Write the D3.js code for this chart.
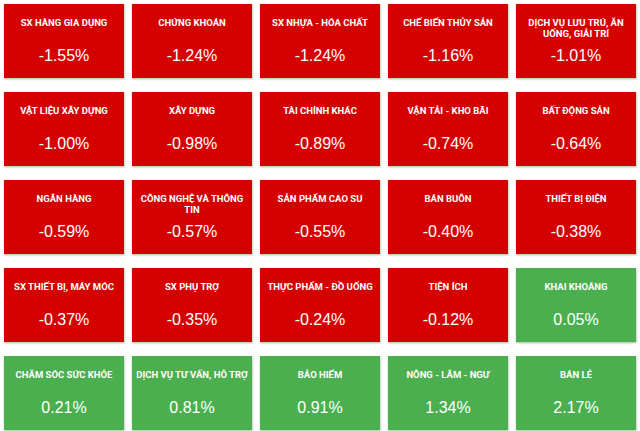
<!DOCTYPE html>
<html>
<head>
<meta charset="utf-8">
<script src="https://cdn.jsdelivr.net/npm/d3@7"></script>
<style>
  html, body { margin: 0; padding: 0; background: #ffffff; }
  svg { display: block; }
</style>
</head>
<body>
<svg id="chart" width="640" height="431"></svg>
<script>
const categories = [
  "SX HÀNG GIA DỤNG", "CHỨNG KHOÁN", "SX NHỰA - HÓA CHẤT", "CHẾ BIẾN THỦY SẢN", "DỊCH VỤ LƯU TRÚ, ĂN UỐNG, GIẢI TRÍ",
  "VẬT LIỆU XÂY DỰNG", "XÂY DỰNG", "TÀI CHÍNH KHÁC", "VẬN TẢI - KHO BÃI", "BẤT ĐỘNG SẢN",
  "NGÂN HÀNG", "CÔNG NGHỆ VÀ THÔNG TIN", "SẢN PHẨM CAO SU", "BÁN BUÔN", "THIẾT BỊ ĐIỆN",
  "SX THIẾT BỊ, MÁY MÓC", "SX PHỤ TRỢ", "THỰC PHẨM - ĐỒ UỐNG", "TIỆN ÍCH", "KHAI KHOÁNG",
  "CHĂM SÓC SỨC KHỎE", "DỊCH VỤ TƯ VẤN, HỖ TRỢ", "BẢO HIỂM", "NÔNG - LÂM - NGƯ", "BÁN LẺ"
];
const values = [
  -1.55, -1.24, -1.24, -1.16, -1.01,
  -1.00, -0.98, -0.89, -0.74, -0.64,
  -0.59, -0.57, -0.55, -0.40, -0.38,
  -0.37, -0.35, -0.24, -0.12, 0.05,
  0.21, 0.81, 0.91, 1.34, 2.17
];
const nCols = 5;

const data = categories.map((c, i) => ({ name: c, value: values[i], col: i % nCols, row: Math.floor(i / nCols) }));
const nRows = Math.ceil(data.length / nCols);

const svg = d3.select("#chart");
const x = d3.scaleBand().domain(d3.range(nCols)).range([4, 636]).paddingInner(8 / 128).paddingOuter(0);
const y = d3.scaleBand().domain(d3.range(nRows)).range([4, 430]).paddingInner(14 / 88).paddingOuter(0);
const color = d3.scaleThreshold().domain([0]).range(["#d50000", "#4caf50"]);
const fmt = d3.formatLocale({ decimal: ".", thousands: ",", grouping: [3], currency: ["", ""], minus: "-" }).format(".2f");

const defs = svg.append("defs");
const f = defs.append("filter").attr("id", "shadow").attr("x", "-10%").attr("y", "-10%").attr("width", "120%").attr("height", "130%");
f.append("feDropShadow").attr("dx", 0.5).attr("dy", 1).attr("stdDeviation", 1).attr("flood-color", "#000").attr("flood-opacity", 0.3);

const cells = svg.selectAll("g.cell").data(data).join("g")
  .attr("class", "cell")
  .attr("transform", d => `translate(${x(d.col)},${y(d.row)})`);

cells.append("rect")
  .attr("width", x.bandwidth())
  .attr("height", y.bandwidth())
  .attr("fill", d => color(d.value))
  .attr("filter", "url(#shadow)");

const maxW = x.bandwidth() - 6;
cells.each(function(d) {
  const g = d3.select(this);
  const t = g.append("text")
    .attr("x", x.bandwidth() / 2)
    .attr("y", 22)
    .attr("text-anchor", "middle")
    .attr("fill", "#ffffff")
    .style("font-family", "Roboto, 'Liberation Sans', Arial, sans-serif")
    .style("font-weight", "700")
    .style("font-size", "9.5px");
  const words = d.name.split(" ");
  let line = [];
  let tspan = t.append("tspan").attr("x", x.bandwidth() / 2).attr("dy", 0);
  words.forEach(w => {
    line.push(w);
    tspan.text(line.join(" "));
    if (tspan.node().getComputedTextLength() > maxW && line.length > 1) {
      line.pop();
      tspan.text(line.join(" "));
      line = [w];
      tspan = t.append("tspan").attr("x", x.bandwidth() / 2).attr("dy", 10.5).text(w);
    }
  });
  g.append("text")
    .attr("x", x.bandwidth() / 2)
    .attr("y", 57)
    .attr("text-anchor", "middle")
    .attr("fill", "#ffffff")
    .style("font-family", "'Liberation Sans', Arial, sans-serif")
    .style("font-size", "16px")
    .text(fmt(d.value) + "%");
});
</script>
</body>
</html>
